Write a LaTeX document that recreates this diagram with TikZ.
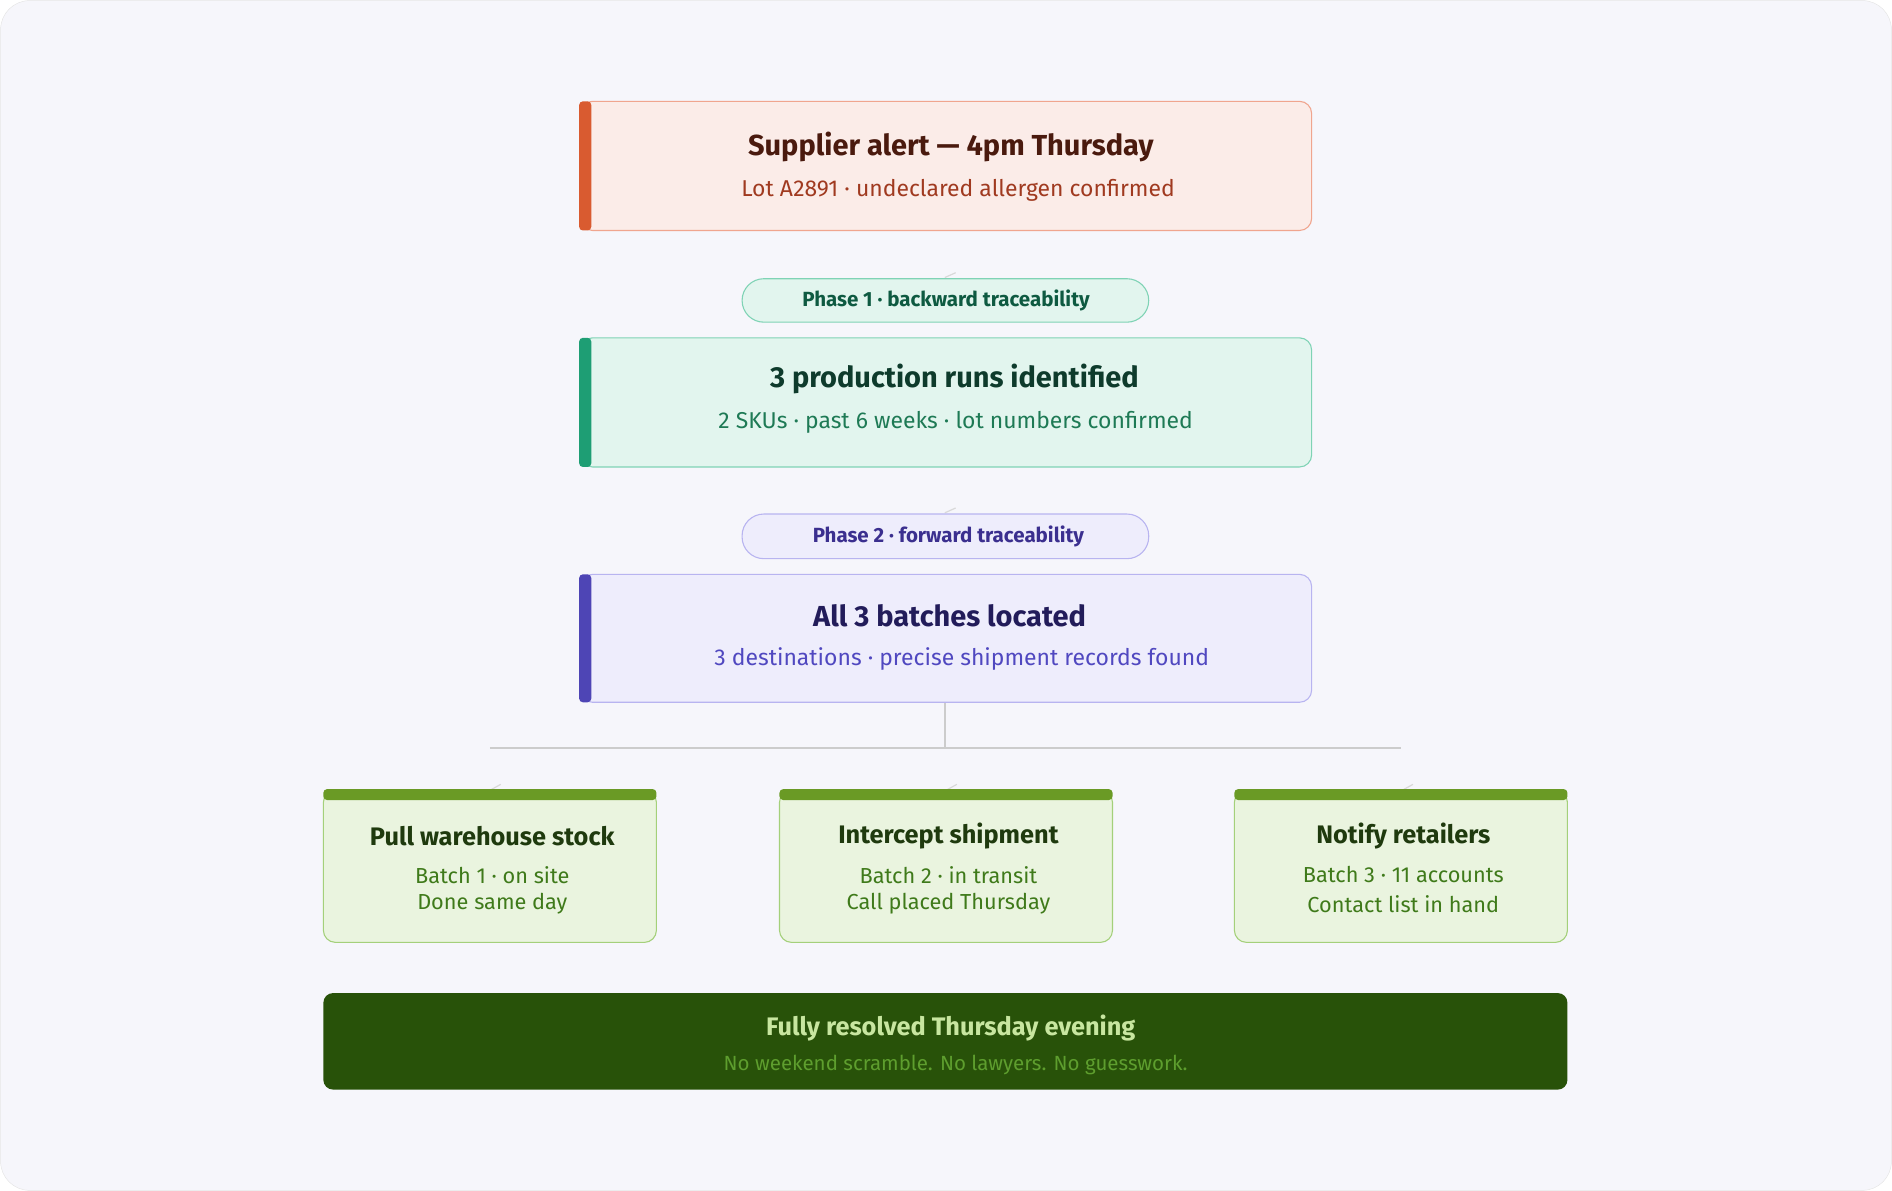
\documentclass[tikz,border=0pt]{standalone}
\usepackage{fontspec}
\setmainfont{Fira Sans}
\definecolor{bg}{HTML}{F6F6FB}
\definecolor{aF}{HTML}{FBECE8}\definecolor{aB}{HTML}{F0A58E}\definecolor{aS}{HTML}{D95B30}
\definecolor{aT}{HTML}{4A1A0E}\definecolor{aU}{HTML}{A03A20}
\definecolor{gF}{HTML}{E2F5EE}\definecolor{gB}{HTML}{7FD3B5}\definecolor{gS}{HTML}{1E9E74}
\definecolor{gT}{HTML}{0E3B2C}\definecolor{gU}{HTML}{1E7A55}\definecolor{gP}{HTML}{0E5A41}
\definecolor{vF}{HTML}{EEEDFC}\definecolor{vB}{HTML}{B8B4F0}\definecolor{vS}{HTML}{4E45B5}
\definecolor{vT}{HTML}{221C5A}\definecolor{vU}{HTML}{5048C0}\definecolor{vP}{HTML}{3B2F8F}
\definecolor{lF}{HTML}{EAF4DF}\definecolor{lB}{HTML}{A4D07A}\definecolor{lS}{HTML}{6A9A25}
\definecolor{lT}{HTML}{1F3A0E}\definecolor{lU}{HTML}{3F7A1A}
\definecolor{dF}{HTML}{285209}\definecolor{dT}{HTML}{C8E6A0}\definecolor{dU}{HTML}{5E9E2E}
\begin{document}
\begin{tikzpicture}[x=1pt,y=-1pt,
 card/.style={rounded corners=10pt,line width=0.9pt},
 ttl/.style={font=\fontsize{24}{28}\selectfont\bfseries,anchor=center},
 sub/.style={font=\fontsize{19}{23}\selectfont,anchor=center},
 pill/.style={rounded corners=18pt,line width=0.9pt},
 ptxt/.style={font=\fontsize{17}{20}\selectfont\bfseries,anchor=center},
 conn/.style={draw=black!20,line width=1.2pt},
 tick/.style={draw=black!15,line width=1pt}]
\useasboundingbox (0,0) rectangle (1568,987);
\fill[bg,draw=black!10,rounded corners=24pt] (0.5,0.5) rectangle (1567.5,986.5);
% connectors
\coordinate (c3) at (783,582);
\coordinate (j) at (783,620);
\coordinate (hl) at (406,620);
\coordinate (hr) at (1161,620);
\draw[conn] (c3) -- (j);
\draw[conn] (hl) -- (hr);
\draw[tick] (783,230) -- (792,226);
\draw[tick] (783,425) -- (792,421);
\foreach \x in {406,784,1162}{\draw[tick] (\x,655) -- (\x+9,650);}
% box1
\draw[card,fill=aF,draw=aB] (481,84) rectangle (1087,191);
\fill[aS,rounded corners=3pt] (480,84) rectangle (490,191);
\node[ttl,text=aT] (t1) at (788,122) {Supplier alert — 4pm Thursday};
\node[sub,text=aU] (s1) at (794,158) {Lot A2891 · undeclared allergen confirmed};
% phase1
\draw[pill,fill=gF,draw=gB] (615,231) rectangle (952,267);
\node[ptxt,text=gP] (p1) at (784,249) {Phase 1 · backward traceability};
% box2
\draw[card,fill=gF,draw=gB] (481,280) rectangle (1087,387);
\fill[gS,rounded corners=3pt] (480,280) rectangle (490,387);
\node[ttl,text=gT] (t2) at (791,314) {3 production runs identified};
\node[sub,text=gU] (s2) at (792,350) {2 SKUs · past 6 weeks · lot numbers confirmed};
% phase2
\draw[pill,fill=vF,draw=vB] (615,426) rectangle (952,463);
\node[ptxt,text=vP] (p2) at (786,445) {Phase 2 · forward traceability};
% box3
\draw[card,fill=vF,draw=vB] (481,476) rectangle (1087,582);
\fill[vS,rounded corners=3pt] (480,476) rectangle (490,582);
\node[ttl,text=vT] (t3) at (787,510) {All 3 batches located};
\node[sub,text=vU] (s3) at (797,546) {3 destinations · precise shipment records found};
% action boxes
\foreach \x/\nm/\a/\b/\c in {268/L/Pull warehouse stock/Batch 1 · on site/Done same day,
 646/M/Intercept shipment/Batch 2 · in transit/Call placed Thursday,
 1023/R/Notify retailers/Batch 3 · 11 accounts/Contact list in hand}{
 \draw[card,fill=lF,draw=lB] (\x,655) rectangle (\x+276,781);
 \fill[lS,rounded corners=3pt] (\x,654) rectangle (\x+276,663);
 \node[font=\fontsize{21}{25}\selectfont\bfseries,text=lT] (t\nm) at (\x+140,693) {\a};
 \node[font=\fontsize{18}{22}\selectfont,text=lU] (a\nm) at (\x+140,725) {\b};
 \node[font=\fontsize{18}{22}\selectfont,text=lU] (b\nm) at (\x+140,749) {\c};
}
% bottom
\fill[dF,rounded corners=8pt] (268,823) rectangle (1299,903);
\node[font=\fontsize{21}{25}\selectfont\bfseries,text=dT] (f1) at (788,852) {Fully resolved Thursday evening};
\node[font=\fontsize{17}{20}\selectfont,text=dU] (f2) at (792,883) {No weekend scramble. No lawyers. No guesswork.};
\end{tikzpicture}
\end{document}
